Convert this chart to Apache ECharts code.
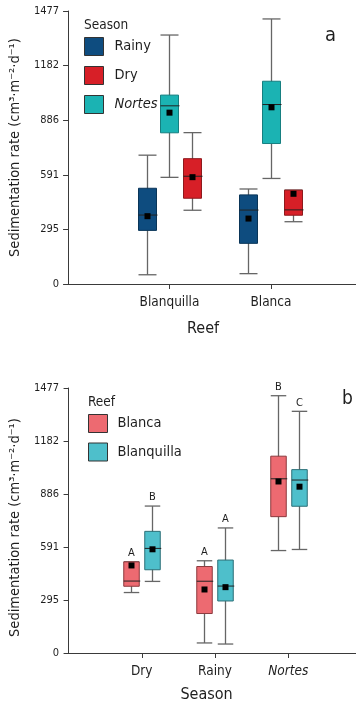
<!DOCTYPE html>
<html>
<head>
<meta charset="utf-8">
<script src="https://cdn.jsdelivr.net/npm/echarts@6/dist/echarts.min.js"></script>
<style>
html,body{margin:0;padding:0;background:#fff;}
#main{width:356px;height:707px;}
</style>
</head>
<body>
<div id="main"></div>
<script>
// box stats: [min, q1, median, q3, max], index 0 = Blanquilla, 1 = Blanca
var reefs = ['Blanquilla', 'Blanca'];
var seasonsTop = ['Rainy', 'Dry', 'Nortes'];
var seasonsBottom = ['Dry', 'Rainy', 'Nortes'];
var yTicks = [0, 295, 591, 886, 1182, 1477];

var rainyBox = [[50, 290, 373, 518, 697], [56, 220, 400, 482, 514]];
var dryBox = [[399, 464, 583, 678, 819], [337, 372, 401, 508, 508]];
var nortesBox = [[577, 818, 964, 1022, 1347], [571, 760, 971, 1097, 1434]];
var rainyMean = [367, 354];
var dryMean = [578, 488];
var nortesMean = [927, 956];

var blancaLetters = ['A', 'A', 'B'];
var blanquillaLetters = ['B', 'A', 'C'];

var FONT = '"Liberation Sans Narrow", "Arial Narrow", "DejaVu Sans Condensed", sans-serif';
var TXT = '#1e1e1e';
var AX = '#3a3a3a';

function row(pos, box, mean) {
  return [pos].concat(box).concat([mean]);
}

// panel a: x = reef position (1,2)
var rainyData = [row(1, rainyBox[0], rainyMean[0]), row(2, rainyBox[1], rainyMean[1])];
var dryData = [row(1, dryBox[0], dryMean[0]), row(2, dryBox[1], dryMean[1])];
var nortesData = [row(1, nortesBox[0], nortesMean[0]), row(2, nortesBox[1], nortesMean[1])];

// panel b: x = season position (1,2,3)
var blancaData = [row(1, dryBox[1], dryMean[1]), row(2, rainyBox[1], rainyMean[1]), row(3, nortesBox[1], nortesMean[1])];
var blanquillaData = [row(1, dryBox[0], dryMean[0]), row(2, rainyBox[0], rainyMean[0]), row(3, nortesBox[0], nortesMean[0])];

function boxRenderer(offset, boxW, color, border, letters) {
  return function (params, api) {
    var x = api.value(0);
    var cx = Math.round(api.coord([x, 0])[0] + offset) + 0.5;
    var y = function (i) { return api.coord([x, api.value(i)])[1]; };
    var lo = y(1), q1 = y(2), md = y(3), q3 = y(4), hi = y(5), mn = y(6);
    var h = boxW / 2;
    var wl = { stroke: '#666', lineWidth: 1.3 };
    var kids = [
      { type: 'line', shape: { x1: cx, y1: hi, x2: cx, y2: lo }, style: wl },
      { type: 'line', shape: { x1: cx - h, y1: hi, x2: cx + h, y2: hi }, style: wl },
      { type: 'line', shape: { x1: cx - h, y1: lo, x2: cx + h, y2: lo }, style: wl },
      { type: 'rect', shape: { x: cx - h, y: q3, width: boxW, height: q1 - q3 },
        style: { fill: color, stroke: border, lineWidth: 1 } },
      { type: 'line', shape: { x1: cx - h, y1: md, x2: cx + h + 1, y2: md },
        style: { stroke: '#222', lineWidth: 1 } },
      { type: 'rect', shape: { x: cx - 3, y: mn - 3, width: 6, height: 6 },
        style: { fill: '#000' } }
    ];
    if (letters) {
      kids.push({ type: 'text', x: cx, y: hi - 3,
        style: { text: letters[params.dataIndex], fill: TXT, font: '11px ' + FONT,
          align: 'center', verticalAlign: 'bottom' } });
    }
    return { type: 'group', children: kids };
  };
}

function boxSeries(name, data, xi, offset, boxW, color, border, letters) {
  return {
    name: name,
    type: 'custom',
    xAxisIndex: xi,
    yAxisIndex: xi,
    data: data,
    encode: { x: 0, y: [1, 2, 3, 4, 5, 6] },
    itemStyle: { color: color, borderColor: border },
    renderItem: boxRenderer(offset, boxW, color, border, letters),
    silent: true
  };
}

function yAxisFor(gi, pad) {
  return {
    type: 'value', gridIndex: gi, min: 0, max: yTicks[5], interval: yTicks[5] / 5,
    name: 'Sedimentation rate (cm³·m⁻²·d⁻¹)', nameLocation: 'middle', nameGap: 41,
    nameTextStyle: { fontFamily: FONT, fontSize: 14.5, color: TXT, padding: pad },
    axisLine: { show: true, lineStyle: { color: AX, width: 1 } },
    axisTick: { show: true, length: 5, lineStyle: { color: AX } },
    axisLabel: { margin: 8, fontFamily: FONT, fontSize: 11, color: TXT,
      formatter: function (v) { return Math.round(v); } },
    splitLine: { show: false }
  };
}

function xAxisFor(gi, min, max, labels, name, gap, pad) {
  var vals = labels.map(function (l, i) { return i + 1; });
  return {
    type: 'value', gridIndex: gi, min: min, max: max,
    name: name, nameLocation: 'middle', nameGap: gap,
    nameTextStyle: { fontFamily: FONT, fontSize: 16, color: TXT, padding: pad },
    axisLine: { show: true, lineStyle: { color: AX, width: 1 } },
    axisTick: { show: true, length: 5, customValues: vals, lineStyle: { color: AX } },
    axisLabel: { margin: 11, fontFamily: FONT, fontSize: 13.5, color: TXT, customValues: vals,
      formatter: function (v) {
        var s = labels[Math.round(v) - 1] || '';
        return s === 'Nortes' ? '{i|' + s + '}' : s;
      },
      rich: { i: { fontStyle: 'italic', fontFamily: FONT, fontSize: 13.5, color: TXT } } },
    splitLine: { show: false }
  };
}

var chart = echarts.init(document.getElementById('main'));
var option = {
  animation: false,
  backgroundColor: '#fff',
  grid: [
    { left: 64, top: 11, height: 273, right: 0 },
    { left: 64, top: 388, height: 265, right: 0 }
  ],
  title: [
    { text: 'Season', left: 84, top: 18, padding: 0, textStyle: { fontFamily: FONT, fontSize: 13.5, fontWeight: 'normal', color: TXT } },
    { text: 'a', left: 325, top: 26, padding: 0, textStyle: { fontFamily: FONT, fontSize: 20, fontWeight: 'normal', color: TXT } },
    { text: 'Reef', left: 88, top: 395, padding: 0, textStyle: { fontFamily: FONT, fontSize: 13.5, fontWeight: 'normal', color: TXT } },
    { text: 'b', left: 342, top: 390, padding: 0, textStyle: { fontFamily: FONT, fontSize: 19, fontWeight: 'normal', color: TXT } }
  ],
  legend: [
    { data: seasonsTop, left: 84, top: 37, padding: 0, orient: 'vertical', icon: 'rect',
      itemWidth: 19, itemHeight: 18, itemGap: 10, selectedMode: false,
      itemStyle: { borderColor: '#333', borderWidth: 1 },
      formatter: function (n) { return n === 'Nortes' ? '{i|Nortes}' : n; },
      textStyle: { fontFamily: FONT, fontSize: 14.5, color: TXT, padding: [0, 0, 0, 6],
        rich: { i: { fontStyle: 'italic', fontFamily: FONT, fontSize: 14.5, color: TXT } } } },
    { data: ['Blanca', 'Blanquilla'], left: 88, top: 414, padding: 0, orient: 'vertical', icon: 'rect',
      itemWidth: 19, itemHeight: 18, itemGap: 9.5, selectedMode: false,
      itemStyle: { borderColor: '#333', borderWidth: 1 },
      textStyle: { fontFamily: FONT, fontSize: 14.5, color: TXT, padding: [0, 0, 0, 5] } }
  ],
  xAxis: [
    xAxisFor(0, -0.0098, 2.839, reefs, 'Reef', 37, [0, 17, 0, 0]),
    xAxisFor(1, -0.0203, 3.926, seasonsBottom, 'Season', 34, [0, 10, 0, 0])
  ],
  yAxis: [yAxisFor(0, [0, 0, 0, 0]), yAxisFor(1, [0, 14, 0, 0])],
  series: [
    boxSeries('Rainy', rainyData, 0, -22.5, 18, '#0e4c7f', '#0a3558'),
    boxSeries('Nortes', nortesData, 0, 0, 18, '#1bb3b3', '#167f80'),
    boxSeries('Dry', dryData, 0, 22.5, 18, '#d71f27', '#8e1a1d'),
    boxSeries('Blanca', blancaData, 1, -10.5, 15.5, '#ed6a71', '#8c3a3e', blancaLetters),
    boxSeries('Blanquilla', blanquillaData, 1, 10.5, 15.5, '#4ebfcb', '#2b6f77', blanquillaLetters)
  ]
};
chart.setOption(option);
</script>
</body>
</html>
